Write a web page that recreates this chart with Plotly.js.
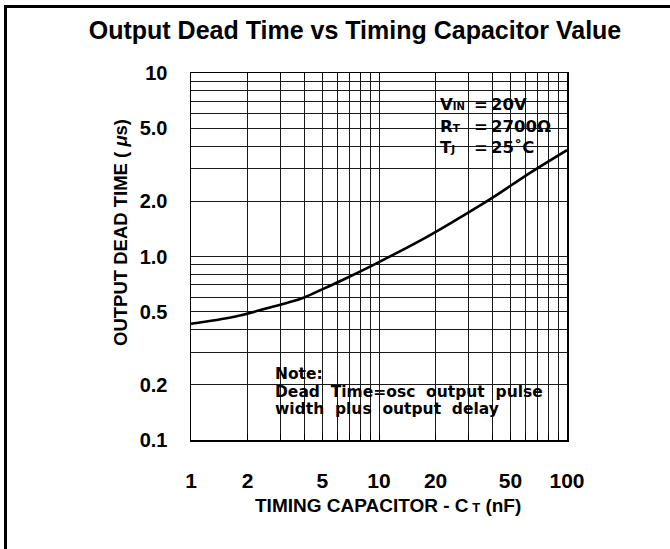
<!DOCTYPE html>
<html>
<head>
<meta charset="utf-8">
<script src="https://cdn.plot.ly/plotly-3.0.1.min.js"></script>
<style>
  html, body { margin: 0; padding: 0; background: #fff; overflow: hidden; }
  #wrap { position: relative; width: 670px; height: 549px; }
  #chart { position: absolute; left: 0; top: 0; width: 670px; height: 549px; }
  #frame { position: absolute; left: 4px; top: 5px; width: 700px; height: 600px;
           border-left: 3px solid #000; border-top: 3px solid #000; pointer-events: none; }
</style>
</head>
<body>
<div id="wrap">
  <div id="chart"></div>
  <div id="frame"></div>
</div>
<script>
// ---- data ----
const capacitance_nF = [1, 1.7, 2.6, 3.9, 4.9, 6.4, 9.7, 18, 27.5, 41, 63, 100];
const deadTime_us    = [0.43, 0.47, 0.526, 0.592, 0.657, 0.745, 0.918, 1.28, 1.65, 2.12, 2.84, 3.8];

const xGridVals = [1,2,3,4,5,6,7,8,9,10,20,30,40,50,60,70,80,90,100];
const xTickText = ['1','2','','','5','','','','','10','20','','','50','','','','','100'];
const yGridVals = [0.1,0.2,0.3,0.4,0.5,0.6,0.7,0.8,0.9,1,2,3,4,5,6,7,8,9,10];
const yTickText = ['0.1','0.2','','','0.5','','','','','1.0','2.0','','','5.0','','','','','10'];

const conditionLabels = ['V<span style="font-size:10px">IN</span>', 'R<span style="font-size:10.5px">T</span>', 'T<span style="font-size:10.5px">J</span>'];
const conditionValues = ['20V', '2700Ω', '25˚C'];
const noteLines = ['Note:', 'Dead\u00a0\u00a0Time=osc\u00a0\u00a0output\u00a0\u00a0pulse', 'width\u00a0\u00a0plus\u00a0\u00a0output\u00a0\u00a0delay'];

const SANS = 'Liberation Sans, Arial, Helvetica, sans-serif';
const WIDE = 'DejaVu Sans, Liberation Sans, sans-serif';

const trace = {
  x: capacitance_nF, y: deadTime_us, type: 'scatter', mode: 'lines',
  line: { color: '#000', width: 2.6, shape: 'spline', smoothing: 1.0 },
  hoverinfo: 'x+y', showlegend: false
};

// plot area in pixels: x 191..567, y 73..440
const px = v => (v - 191) / 376;
const py = v => (440 - v) / 367;

const annotations = [];
// conditions box
const condY = [105, 126.5, 147];
for (let i = 0; i < 3; i++) {
  annotations.push({ xref: 'paper', yref: 'paper', x: px(438), y: py(condY[i]), xanchor: 'left', yanchor: 'middle',
    text: conditionLabels[i], showarrow: false, font: { family: WIDE, size: 16.5, color: '#000', weight: 'bold' } });
  annotations.push({ xref: 'paper', yref: 'paper', x: px(480.5), y: py(condY[i]), xanchor: 'center', yanchor: 'middle',
    text: '=', showarrow: false, font: { family: WIDE, size: 16.5, color: '#000', weight: 'bold' } });
  annotations.push({ xref: 'paper', yref: 'paper', x: px(489), y: py(condY[i]), xanchor: 'left', yanchor: 'middle',
    text: conditionValues[i], showarrow: false, font: { family: WIDE, size: 16.5, color: '#000', weight: 'bold' } });
}
// note
const noteY = [374, 392, 409];
for (let i = 0; i < 3; i++) {
  annotations.push({ xref: 'paper', yref: 'paper', x: px(273), y: py(noteY[i]), xanchor: 'left', yanchor: 'middle',
    text: noteLines[i], showarrow: false, font: { family: WIDE, size: 15.5, color: '#000', weight: 'bold' } });
}
// axis titles
annotations.push({ xref: 'paper', yref: 'paper', x: px(388), y: py(505), xanchor: 'center', yanchor: 'middle',
  text: 'TIMING CAPACITOR - C<span style="font-size:13px"> T</span> (nF)', showarrow: false,
  font: { family: SANS, size: 19, color: '#000', weight: 'bold' } });
annotations.push({ xref: 'paper', yref: 'paper', x: px(120), y: py(233), xanchor: 'center', yanchor: 'middle',
  textangle: -90, text: 'OUTPUT DEAD TIME ( <i>μ</i>s)', showarrow: false,
  font: { family: SANS, size: 18.5, color: '#000', weight: 'bold' } });

const shapes = [
  { type: 'rect', xref: 'paper', yref: 'paper', layer: 'between', x0: px(437), x1: px(550), y0: py(164), y1: py(85),
    fillcolor: '#fff', line: { width: 0 } },
  { type: 'rect', xref: 'paper', yref: 'paper', layer: 'between', x0: px(274), x1: px(323), y0: py(383), y1: py(366),
    fillcolor: '#fff', line: { width: 0 } },
  { type: 'rect', xref: 'paper', yref: 'paper', layer: 'between', x0: px(274), x1: px(548), y0: py(435), y1: py(383),
    fillcolor: '#fff', line: { width: 0 } }
];

const layout = {
  width: 670, height: 549,
  margin: { l: 191, r: 103, t: 73, b: 109, pad: 0 },
  paper_bgcolor: '#fff', plot_bgcolor: '#fff',
  title: { text: 'Output Dead Time vs Timing Capacitor Value', x: 355 / 670, xanchor: 'center', y: 1 - 30 / 549, yanchor: 'middle',
    font: { family: SANS, size: 25, color: '#000', weight: 'bold' } },
  xaxis: {
    type: 'log', range: [0, 2], tickmode: 'array', tickvals: xGridVals, ticktext: xTickText,
    showgrid: true, gridcolor: '#1a1a1a', gridwidth: 1, zeroline: false,
    showline: true, linecolor: '#000', linewidth: 1.5, mirror: 'ticks',
    ticks: 'inside', ticklen: 6, tickcolor: '#000', tickwidth: 1,
    ticklabelstandoff: 21,
    tickfont: { family: SANS, size: 21, color: '#000', weight: 'bold' },
    fixedrange: true
  },
  yaxis: {
    type: 'log', range: [-1, 1], tickmode: 'array', tickvals: yGridVals, ticktext: yTickText,
    showgrid: true, gridcolor: '#1a1a1a', gridwidth: 1, zeroline: false,
    showline: true, linecolor: '#000', linewidth: 1.5, mirror: 'ticks',
    ticks: '', ticklabelstandoff: 18,
    tickfont: { family: SANS, size: 20, color: '#000', weight: 'bold' },
    fixedrange: true
  },
  shapes: shapes,
  annotations: annotations,
  showlegend: false
};

Plotly.newPlot('chart', [trace], layout, { displayModeBar: false, staticPlot: true });
</script>
</body>
</html>
